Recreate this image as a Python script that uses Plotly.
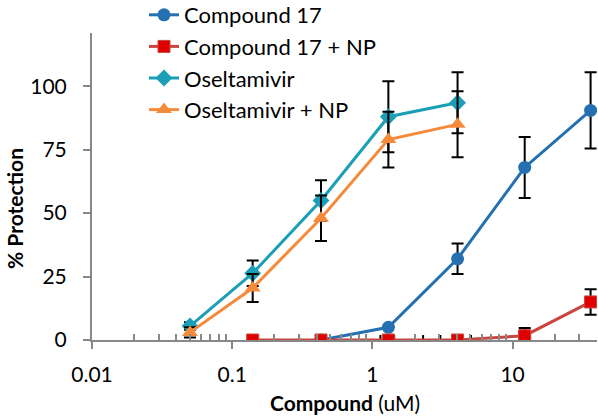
import plotly.graph_objects as go

# concentrations (uM)
conc_c17 = [0.43, 1.3, 4.05, 12.2, 36]
prot_c17 = [0, 5, 32, 68, 90.5]
err_c17 = [0, 0, 6, 12, 15]

conc_c17np = [0.14, 0.43, 1.3, 4.05, 12.2, 36]
prot_c17np = [0, 0, 0, 0, 1.7, 15]
err_c17np = [0, 0, 0, 0, 3, 5]
xerr_c17np = [1, 1, 1, 1, 1, 1]

conc_osel = [0.05, 0.14, 0.43, 1.3, 4.05]
prot_osel = [5.5, 26.3, 55, 88, 93.5]
err_osel = [1.5, 5, 8, 14, 12]

conc_oselnp = [0.05, 0.14, 0.43, 1.3, 4.05]
prot_oselnp = [3, 20.5, 48, 79, 85]
err_oselnp = [2, 5.5, 9, 11, 13]

x_tickvals = [0.01, 0.1, 1, 10]
x_ticktext = ["0.01", "0.1", "1", "10"]
y_tickvals = [0, 25, 50, 75, 100]
x_minor = [m * 10.0 ** e for e in range(-2, 2) for m in range(2, 10)]

FONT = "Lato, 'Open Sans', sans-serif"
eb = dict(type="data", color="black", thickness=2, width=6)
AXC = "#888888"
XRANGE = [-2, 1.602]

# plot area in pixels (for placing titles/legend in paper coordinates)
L, R, T, B = 92, 1, 33, 76
W, H = 598, 416
PW, PH = W - L - R, H - T - B

fig = go.Figure()

def err_y(vals):
    return dict(eb, array=vals, symmetric=True)

fig.add_trace(go.Scatter(
    x=conc_c17, y=prot_c17, name="Compound 17", mode="lines+markers", legendgroup="a",
    line=dict(color="#2470B0", width=3),
    marker=dict(symbol="circle", size=13, color="#2470B0"),
    error_y=err_y(err_c17)))

xminus = [0 if c <= 1 else e for c, e in zip(conc_c17np, xerr_c17np)]
fig.add_trace(go.Scatter(
    x=conc_c17np, y=prot_c17np, name="Compound 17 + NP", mode="lines+markers", legendgroup="b",
    line=dict(color="#C9453F", width=3),
    marker=dict(symbol="square", size=12, color="#E00000", line=dict(color="#C9453F", width=1)),
    error_y=err_y(err_c17np),
    error_x=dict(eb, array=xerr_c17np, arrayminus=xminus, symmetric=False, width=5)))

fig.add_trace(go.Scatter(
    x=conc_osel, y=prot_osel, name="Oseltamivir", mode="lines+markers", legendgroup="c",
    line=dict(color="#1B9EB6", width=3),
    marker=dict(symbol="diamond", size=13, color="#1B9EB6"),
    error_y=err_y(err_osel)))

fig.add_trace(go.Scatter(
    x=conc_oselnp, y=prot_oselnp, name="Oseltamivir + NP", mode="lines+markers", legendgroup="d",
    line=dict(color="#F58A3A", width=3),
    marker=dict(symbol="triangle-up", size=14, color="#F58A3A"),
    error_y=err_y(err_oselnp)))

# invisible helper trace so the overlay axis (minor log ticks) is drawn
fig.add_trace(go.Scatter(
    x=conc_c17, y=prot_c17, xaxis="x2", yaxis="y", mode="markers",
    marker=dict(opacity=0), showlegend=False, hoverinfo="skip"))

fig.update_layout(
    width=W, height=H,
    margin=dict(l=L, r=R, t=T, b=B, autoexpand=False),
    paper_bgcolor="white", plot_bgcolor="white",
    font=dict(family=FONT, size=21, color="black"),
    showlegend=True,
    legend=dict(xref="paper", yref="paper", x=(144 - L) / PW, y=1 + (T + 6) / PH,
                xanchor="left", yanchor="top",
                bgcolor="rgba(0,0,0,0)", font=dict(size=22), tracegroupgap=0),
    annotations=[
        dict(text="<b>Compound</b> (uM)", xref="paper", yref="paper",
             x=(345 - L) / PW, y=(H - B - 402) / PH, xanchor="center", yanchor="middle",
             showarrow=False, font=dict(size=21)),
        dict(text="<b>% Protection</b>", xref="paper", yref="paper",
             x=(14 - L) / PW, y=(H - B - 209) / PH, xanchor="center", yanchor="middle",
             textangle=-90, showarrow=False, font=dict(size=21)),
    ],
    # overlay axis that carries the minor (2..9) log ticks, drawn inside
    xaxis2=dict(type="log", range=XRANGE, overlaying="x", side="bottom", anchor="y",
                tickmode="array", tickvals=x_minor, showticklabels=False,
                ticks="inside", ticklen=6, tickwidth=1.5, tickcolor=AXC,
                showline=False, showgrid=False, zeroline=False, automargin=False),
)

fig.layout.xaxis.update(
    type="log", range=XRANGE, automargin=False,
    tickmode="array", tickvals=x_tickvals, ticktext=x_ticktext,
    ticks="outside", ticklen=7, tickwidth=1.5, tickcolor=AXC,
    showline=True, linecolor=AXC, linewidth=2,
    showgrid=False, zeroline=False,
    tickfont=dict(size=21), ticklabelstandoff=8,
)
fig.update_yaxes(
    range=[0, 121], tickvals=y_tickvals, automargin=False,
    ticks="outside", ticklen=7, tickwidth=1.5, tickcolor=AXC,
    showline=True, linecolor=AXC, linewidth=2,
    showgrid=False, zeroline=False,
    tickfont=dict(size=21), ticklabelstandoff=12,
)

fig.write_html("out.html", post_script="document.body.style.margin='0px';",
               config={"displayModeBar": False})
